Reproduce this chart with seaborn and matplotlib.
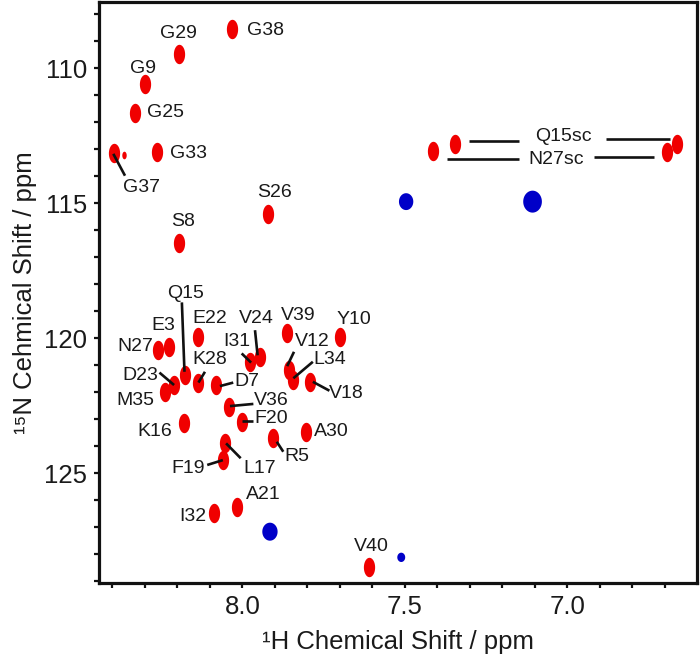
import numpy as np
import pandas as pd
import matplotlib
matplotlib.use("Agg")
import matplotlib.pyplot as plt
import seaborn as sns
from matplotlib.path import Path
from matplotlib.markers import MarkerStyle
from matplotlib.ticker import MultipleLocator, FixedLocator

# ---------------- data ----------------
residues = ["G38", "G29", "G9", "G25", "G33", "G37", "S26", "S8",
            "E22", "E3", "N27", "V39", "Y10", "I31", "V24", "Q15",
            "K28", "D7", "D23", "M35", "V12", "L34", "V18", "V36",
            "F20", "K16", "A30", "R5", "L17", "F19", "A21", "I32", "V40"]
h_ppm = [8.031, 8.196, 8.298, 8.329, 8.263, 8.396, 7.922, 8.196,
         8.137, 8.227, 8.258, 7.864, 7.700, 7.976, 7.946, 8.176,
         8.135, 8.081, 8.210, 8.237, 7.856, 7.843, 7.792, 8.040,
         8.002, 8.181, 7.805, 7.907, 8.053, 8.058, 8.017, 8.087, 7.610]
n_ppm = [108.56, 109.47, 110.58, 111.67, 113.09, 113.15, 115.41, 116.48,
         119.94, 120.31, 120.43, 119.81, 119.94, 120.87, 120.68, 121.36,
         121.67, 121.73, 121.73, 121.98, 121.17, 121.54, 121.61, 122.53,
         123.09, 123.15, 123.46, 123.70, 123.89, 124.51, 126.24, 126.48, 128.46]

sidechain = ["Q15sc", "Q15sc", "N27sc", "N27sc"]
sc_h = [7.347, 6.663, 7.414, 6.693]
sc_n = [112.80, 112.79, 113.05, 113.09]

shoulder_h = [8.365]
shoulder_n = [113.20]

blue_h = [7.496, 7.107, 7.915, 7.511]
blue_n = [114.94, 114.94, 127.16, 128.11]
blue_int = [1.0, 1.5, 1.1, 0.5]

x_ticklabels = ["8.0", "7.5", "7.0"]
y_ticklabels = ["110", "115", "120", "125"]

# ---------------- label layout (annotation positions, ppm) ----------------
label_pos = {
    "G38": (7.930, 108.61), "G29": (8.197, 108.70), "G9": (8.305, 110.00),
    "G25": (8.235, 111.64), "G33": (8.166, 113.15), "G37": (8.310, 114.41),
    "S26": (7.902, 114.61), "S8": (8.182, 115.68), "Q15": (8.176, 118.33),
    "E22": (8.099, 119.26), "E3": (8.243, 119.51), "N27": (8.330, 120.31),
    "V24": (7.956, 119.26), "V39": (7.828, 119.14), "Y10": (7.658, 119.32),
    "I31": (8.017, 120.13), "V12": (7.786, 120.13), "K28": (8.099, 120.80),
    "L34": (7.730, 120.80), "D23": (8.315, 121.36), "D7": (7.986, 121.61),
    "M35": (8.330, 122.29), "V18": (7.679, 122.04), "V36": (7.910, 122.29),
    "F20": (7.910, 122.96), "K16": (8.269, 123.46), "A30": (7.725, 123.46),
    "R5": (7.833, 124.39), "F19": (8.166, 124.81), "L17": (7.946, 124.81),
    "A21": (7.935, 125.80), "I32": (8.151, 126.61), "V40": (7.602, 127.72),
}
leaders = [
    ((8.397, 113.17), (8.361, 113.98)),   # G37
    ((8.186, 118.67), (8.178, 121.24)),   # Q15
    ((7.961, 119.70), (7.953, 120.63)),   # V24
    ((8.002, 120.56), (7.973, 120.90)),   # I31
    ((7.841, 120.50), (7.862, 121.03)),   # V12
    ((8.115, 121.24), (8.135, 121.64)),   # K28
    ((7.783, 120.87), (7.843, 121.48)),   # L34
    ((8.255, 121.27), (8.210, 121.73)),   # D23
    ((8.028, 121.64), (8.069, 121.77)),   # D7
    ((7.783, 121.61), (7.732, 121.94)),   # V18
    ((8.038, 122.51), (7.966, 122.43)),   # V36
    ((8.002, 123.05), (7.966, 123.05)),   # F20
    ((7.894, 123.83), (7.874, 124.20)),   # R5
    ((8.108, 124.69), (8.060, 124.51)),   # F19
    ((8.050, 123.89), (8.005, 124.44)),   # L17
    ((7.302, 112.68), (7.148, 112.68)),   # Q15sc left
    ((6.881, 112.63), (6.684, 112.63)),   # Q15sc right
    ((7.371, 113.37), (7.148, 113.37)),   # N27sc left
    ((6.918, 113.27), (6.733, 113.27)),   # N27sc right
]
sc_label_pos = [("Q15sc", 7.013, 112.51), ("N27sc", 7.033, 113.37)]

# ---------------- styling ----------------
sns.set_style("white")
plt.rcParams["font.family"] = ["Liberation Sans", "DejaVu Sans"]

fig = plt.figure(figsize=(7.0, 6.59), dpi=100)
ax = fig.add_axes([99 / 700, 1 - 583 / 659, (697 - 99) / 700, (583 - 1.5) / 659])

t = np.linspace(0, 2 * np.pi, 80)
ell_red = MarkerStyle(Path(np.column_stack([0.58 * np.cos(t), np.sin(t)]), closed=True))
ell_blue = MarkerStyle(Path(np.column_stack([0.85 * np.cos(t), np.sin(t)]), closed=True))

RED = "#f00000"
BLUE = "#0000c8"

df_bb = pd.DataFrame({"H": h_ppm, "N": n_ppm, "res": residues})
df_sc = pd.DataFrame({"H": sc_h, "N": sc_n, "res": sidechain})
df_sh = pd.DataFrame({"H": shoulder_h, "N": shoulder_n})
df_bl = pd.DataFrame({"H": blue_h, "N": blue_n, "I": blue_int})

sns.scatterplot(data=df_bb, x="H", y="N", marker=ell_red, s=195, color=RED,
                linewidth=0, ax=ax, zorder=3)
sns.scatterplot(data=df_sc, x="H", y="N", marker=ell_red, s=195, color=RED,
                linewidth=0, ax=ax, zorder=3)
sns.scatterplot(data=df_sh, x="H", y="N", marker=ell_red, s=30, color=RED,
                linewidth=0, ax=ax, zorder=3)
sns.scatterplot(data=df_bl, x="H", y="N", size="I", sizes=(45, 250), marker=ell_blue,
                color=BLUE, linewidth=0, ax=ax, legend=False, zorder=3)

TXT = "#1a1a1a"
for name, (lx, ly) in label_pos.items():
    ax.text(lx, ly, name, fontsize=14, color=TXT, ha="center", va="center", zorder=5)
for name, lx, ly in sc_label_pos:
    ax.text(lx, ly, name, fontsize=14, color=TXT, ha="center", va="center", zorder=5)
for (x0, y0), (x1, y1) in leaders:
    ax.plot([x0, x1], [y0, y1], color="#111111", lw=1.9, solid_capstyle="butt", zorder=4)

ax.set_xlim(8.441, 6.601)
ax.set_ylim(129.06, 107.53)

ax.xaxis.set_major_locator(FixedLocator([8.0, 7.5, 7.0]))
ax.set_xticklabels(x_ticklabels)
ax.xaxis.set_minor_locator(MultipleLocator(0.1))
ax.yaxis.set_major_locator(FixedLocator([110, 115, 120, 125]))
ax.set_yticklabels(y_ticklabels)
ax.yaxis.set_minor_locator(MultipleLocator(1))

ax.tick_params(which="both", direction="out", length=3.5, width=1.6, color="#111111",
               labelsize=18.5, labelcolor=TXT, pad=5, bottom=True, left=True)
for s in ax.spines.values():
    s.set_linewidth(2.3)
    s.set_color("#111111")

ax.set_xlabel("\u00b9H Chemical Shift / ppm", fontsize=18.5, color=TXT, labelpad=8)
ax.set_ylabel("\u00b9\u2075N Cehmical Shift / ppm", fontsize=18.5, color=TXT, labelpad=5)

fig.savefig("out.png", dpi=100)
